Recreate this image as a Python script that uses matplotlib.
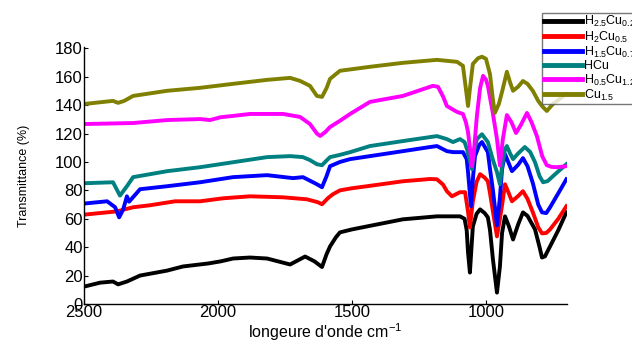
import matplotlib
matplotlib.use("Agg")
import matplotlib.pyplot as plt

plt.rcParams['font.family'] = ['Liberation Sans', 'DejaVu Sans']
plt.rcParams['mathtext.fontset'] = 'custom'
plt.rcParams['mathtext.rm'] = 'Liberation Sans'
plt.rcParams['mathtext.it'] = 'Liberation Sans:italic'
plt.rcParams['mathtext.bf'] = 'Liberation Sans:bold'

# FTIR spectra (wavenumber in cm-1, transmittance in %), offset series
wn_black = [2500, 2440, 2392, 2373, 2340, 2291, 2190, 2131, 2037, 1990, 1944, 1881, 1817, 1731,
            1675, 1640, 1612, 1595, 1582, 1560, 1545, 1500, 1444, 1310, 1183, 1097, 1080, 1072,
            1067, 1060, 1054, 1049, 1035, 1022, 1005, 993, 985, 974, 959, 948, 940, 929, 915,
            899, 880, 862, 845, 817, 800, 791, 780, 761, 730, 700]
t_black = [12.2, 15.0, 15.8, 13.8, 15.8, 20.0, 23.5, 26.4, 28.5, 30.0, 32.0, 32.7, 32.0, 27.8,
           33.4, 30.0, 26.0, 35.0, 40.5, 47.0, 50.4, 52.5, 54.6, 59.6, 61.7, 61.7, 60.0, 52.0,
           36.3, 22.1, 40.0, 54.6, 63.5, 66.6, 64.0, 61.0, 52.0, 31.3, 8.0, 26.4, 50.0, 61.7, 55.0,
           45.4, 56.0, 64.5, 62.0, 52.5, 40.0, 32.7, 33.5, 40.5, 52.0, 64.5]

wn_red = [2500, 2377, 2317, 2254, 2160, 2067, 1981, 1881, 1757, 1668, 1627, 1612, 1590, 1571,
          1545, 1500, 1444, 1310, 1209, 1183, 1160, 1146, 1127, 1097, 1078, 1067, 1060, 1054,
          1049, 1035, 1022, 1005, 993, 985, 974, 959, 948, 940, 929, 915, 903, 880, 862, 845,
          825, 805, 791, 775, 761, 730, 700]
t_red = [62.9, 65.2, 68.1, 69.5, 72.3, 72.3, 74.4, 75.8, 75.1, 73.7, 71.6, 70.2, 74.5, 77.3,
         80.0, 81.5, 82.9, 86.4, 88.0, 87.8, 84.0, 79.4, 75.8, 78.7, 78.7, 65.0, 53.9, 64.0,
         72.3, 86.0, 91.4, 89.0, 86.4, 78.0, 65.0, 47.6, 60.0, 69.5, 84.3, 78.0, 72.3, 76.0,
         79.4, 74.0, 64.5, 54.0, 49.7, 50.0, 52.5, 60.0, 68.8]

wn_blue = [2500, 2414, 2384, 2369, 2354, 2340, 2332, 2291, 2190, 2067, 1944, 1817, 1720, 1683,
           1631, 1612, 1595, 1582, 1545, 1507, 1433, 1310, 1209, 1183, 1146, 1123, 1086, 1072,
           1067, 1056, 1048, 1041, 1025, 1015, 993, 985, 974, 959, 948, 940, 929, 915, 903, 880,
           862, 845, 825, 805, 791, 775, 761, 730, 700]
t_blue = [70.7, 72.3, 68.1, 61.0, 66.6, 75.8, 72.0, 80.8, 82.9, 85.7, 89.3, 90.7, 88.6, 89.3,
          84.3, 82.2, 90.0, 97.0, 100.0, 102.0, 104.1, 107.6, 110.5, 111.2, 107.6, 106.9, 106.9,
          102.0, 92.8, 68.8, 90.0, 104.1, 112.0, 114.0, 106.9, 95.0, 80.0, 55.3, 75.0, 95.0,
          105.5, 99.0, 93.5, 98.0, 102.7, 97.0, 85.0, 70.0, 64.5, 64.0, 68.0, 78.0, 87.8]

wn_teal = [2500, 2392, 2366, 2340, 2317, 2190, 2067, 1944, 1817, 1731, 1683, 1657, 1631, 1612,
           1595, 1582, 1545, 1507, 1433, 1310, 1209, 1183, 1146, 1123, 1097, 1080, 1071, 1052,
           1044, 1034, 1015, 993, 975, 959, 948, 940, 929, 922, 910, 899, 880, 855, 835, 817,
           800, 787, 770, 750, 700]
t_teal = [85.0, 85.7, 76.3, 82.9, 89.3, 93.5, 96.3, 99.8, 103.4, 104.1, 103.4, 101.3, 98.4, 97.7,
          101.0, 103.4, 105.0, 106.9, 111.2, 114.7, 117.5, 118.2, 116.1, 114.0, 116.1, 114.0,
          109.0, 94.9, 108.0, 116.1, 119.5, 114.0, 102.0, 92.8, 84.3, 97.0, 109.0, 111.2, 106.0,
          102.0, 106.0, 110.5, 107.0, 99.8, 90.0, 85.7, 86.5, 90.0, 98.4]

wn_magenta = [2500, 2317, 2190, 2067, 2030, 1990, 1944, 1881, 1757, 1694, 1657, 1631, 1619,
              1600, 1582, 1545, 1507, 1433, 1310, 1198, 1179, 1160, 1146, 1108, 1086, 1075,
              1067, 1052, 1043, 1034, 1022, 1011, 1000, 993, 975, 959, 948, 937, 922, 905, 888,
              870, 847, 830, 810, 790, 773, 755, 735, 700]
t_magenta = [126.7, 127.4, 129.5, 130.2, 129.5, 131.5, 132.4, 133.8, 133.8, 131.7, 126.7, 120.0,
             118.3, 121.0, 124.6, 129.0, 133.8, 142.3, 146.5, 153.6, 152.9, 146.0, 139.4, 135.2,
             133.8, 128.0, 121.0, 97.0, 112.0, 132.4, 152.0, 160.6, 158.0, 153.6, 135.0, 116.1,
             97.5, 116.1, 133.0, 128.0, 120.4, 126.0, 134.5, 128.0, 118.2, 104.0, 97.7, 96.5,
             96.3, 97.0]

wn_olive = [2500, 2392, 2373, 2350, 2317, 2190, 2067, 1944, 1817, 1731, 1694, 1657, 1631, 1612,
            1595, 1582, 1545, 1433, 1310, 1183, 1108, 1086, 1075, 1067, 1060, 1049, 1030, 1015,
            1000, 985, 975, 967, 952, 940, 922, 910, 899, 880, 862, 845, 825, 805, 791, 773, 750,
            700]
t_olive = [140.8, 143.0, 141.6, 143.0, 146.5, 150.1, 152.2, 155.0, 157.8, 159.2, 157.1, 153.6,
           146.5, 145.8, 152.0, 158.5, 164.2, 167.0, 169.8, 171.9, 170.5, 167.7, 151.5, 139.4,
           151.5, 169.0, 173.0, 174.1, 172.6, 161.8, 145.0, 134.5, 140.8, 149.4, 163.5, 156.0,
           150.1, 153.0, 157.0, 155.0, 150.0, 143.0, 139.4, 135.9, 140.8, 148.0]

labels = [r'H$_{2.5}$Cu$_{0.25}$', r'H$_{2}$Cu$_{0.5}$', r'H$_{1.5}$Cu$_{0.75}$',
          'HCu', r'H$_{0.5}$Cu$_{1.25}$', r'Cu$_{1.5}$']
colors = ['#000000', '#ff0000', '#0000ff', '#008080', '#ff00ff', '#808000']
series = [(wn_black, t_black), (wn_red, t_red), (wn_blue, t_blue),
          (wn_teal, t_teal), (wn_magenta, t_magenta), (wn_olive, t_olive)]

fig = plt.figure(figsize=(6.32, 3.40), dpi=100)
ax = fig.add_axes([0.133, 0.106, 0.764, 0.756])

for (x, y), c, lab in zip(series, colors, labels):
    ax.plot(x, y, color=c, lw=2.8, label=lab, solid_joinstyle='round')

ax.set_xlim(2500, 698)
ax.set_ylim(0, 181)
ax.set_xticks([2500, 2000, 1500, 1000])
ax.set_yticks(range(0, 181, 20))
ax.tick_params(axis='both', direction='in', length=3, width=0.8, pad=1, labelsize=12)
for s in ['top', 'right']:
    ax.spines[s].set_visible(False)
for s in ['left', 'bottom']:
    ax.spines[s].set_linewidth(1.0)

ax.set_ylabel('Transmittance (%)', fontsize=9)
ax.yaxis.set_label_coords(-0.112, 0.5)
ax.set_xlabel(r"longeure d'onde cm$^{-1}$", fontsize=11.5)
ax.xaxis.set_label_coords(0.5, -0.068)

leg = fig.legend(loc='upper left', bbox_to_anchor=(0.858, 0.962), fontsize=9,
                 frameon=True, fancybox=False, borderpad=0.1, labelspacing=0.02,
                 handlelength=3.1, handletextpad=0.15, borderaxespad=0)
leg.get_frame().set_edgecolor('#555555')
leg.get_frame().set_linewidth(1.0)
for h in leg.get_lines():
    h.set_linewidth(3.5)

fig.savefig('out.png', dpi=100)
